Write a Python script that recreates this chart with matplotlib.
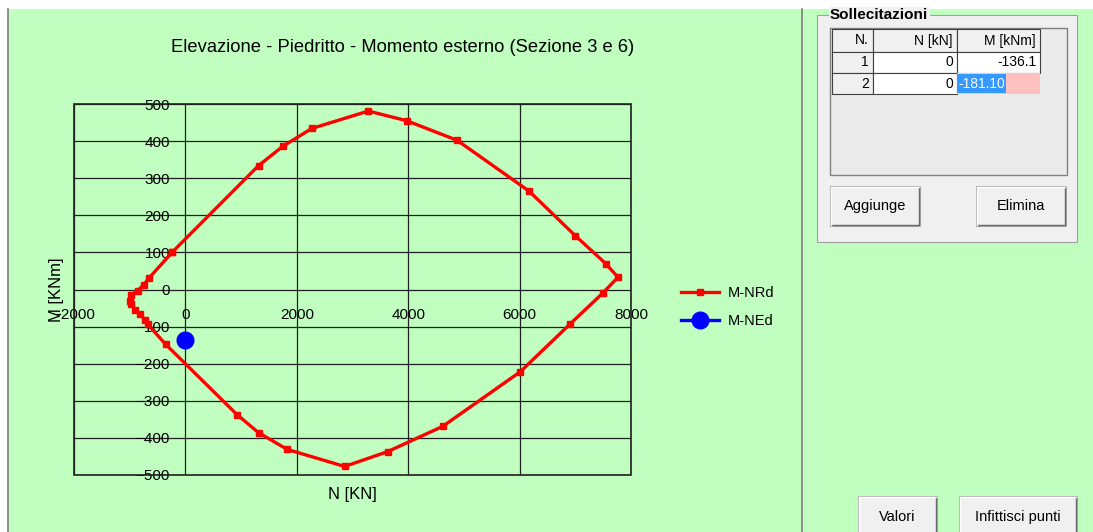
import matplotlib.pyplot as plt
from matplotlib.patches import Rectangle
from matplotlib.lines import Line2D

plt.rcParams['font.family'] = ['Liberation Sans', 'DejaVu Sans']

# dominio resistente M-NRd
N_rd = [-240, 1314, 1749, 2269, 3285, 3972, 4880, 6171, 7000, 7545, 7766,
        7491, 6900, 6010, 4619, 3630, 2859, 1828, 1314, 925, -353,
        -676, -729, -819, -909, -980, -998, -980, -855, -747, -658, -240]
M_rd = [100, 334, 386, 434, 481, 455, 402, 265, 145, 70, 33,
        -10, -94, -222, -369, -437, -477, -431, -386, -337, -148,
        -94, -81, -67, -54, -40, -30, -16, -3, 13, 30, 100]

# sollecitazioni M-NEd
N_ed = [0]
M_ed = [-136.1]

x_ticks = [-2000, 0, 2000, 4000, 6000, 8000]
y_ticks = [-500, -400, -300, -200, -100, 0, 100, 200, 300, 400, 500]

# tabella sollecitazioni
tab_header = ['N.', 'N [kN]', 'M [kNm]']
tab_n = ['1', '2']
tab_N = ['0', '0']
tab_M = ['-136.1', '-181.10']

GREEN = '#C0FFC0'
W, H = 1093, 532


def fx(x):
    return x / W


def fy(y):
    return 1 - y / H


fig = plt.figure(figsize=(W / 100, H / 100), dpi=100, facecolor=GREEN)


def box(x0, y0, x1, y1, **kw):
    r = Rectangle((fx(x0), fy(y1)), (x1 - x0) / W, (y1 - y0) / H,
                  transform=fig.transFigure, **kw)
    fig.patches.append(r)


def line(xs, ys, **kw):
    fig.lines.append(Line2D([fx(x) for x in xs], [fy(y) for y in ys],
                            transform=fig.transFigure, **kw))


def button(x0, y0, x1, y1, label):
    box(x0, y0, x1, y1, fc='#F0F0F0', ec='#ADADAD', lw=0.8)
    line([x0 + 1, x1 - 1, x1 - 1], [y1 - 1, y1 - 1, y0 + 1], color='#696969', lw=1)
    line([x0 + 1, x0 + 1, x1 - 1], [y1 - 1, y0 + 1, y0 + 1], color='white', lw=1)
    fig.text(fx((x0 + x1) / 2), fy((y0 + y1) / 2), label, ha='center', va='center',
             fontsize=10.5)


# ---- grafico ----
ax = fig.add_axes([fx(74), fy(475), (631 - 74) / W, (475 - 104) / H])
ax.set_facecolor(GREEN)
ax.plot(N_rd, M_rd, color='red', lw=2.4, marker='s', ms=5, label='M-NRd', zorder=3)
ax.plot(N_ed, M_ed, color='blue', lw=2.4, marker='o', ms=12, ls='none',
        label='M-NEd', zorder=4)
ax.set_xlim(-2000, 8000)
ax.set_ylim(-500, 500)
ax.set_xticks(x_ticks)
ax.set_yticks(y_ticks)
ax.grid(True, color='#202020', lw=0.9)
ax.set_axisbelow(True)
for s in ['left', 'bottom']:
    ax.spines[s].set_position(('data', 0))
    ax.spines[s].set_edgecolor('none')
for s in ['top', 'right']:
    ax.spines[s].set_visible(False)
ax.add_patch(Rectangle((0, 0), 1, 1, transform=ax.transAxes, fill=False,
                       ec='#202020', lw=1.2, clip_on=False, zorder=5))
ax.tick_params(axis='both', length=0, labelsize=11)
ax.tick_params(axis='y', pad=11)
ax.tick_params(axis='x', pad=13)

fig.text(fx(403), fy(48), 'Elevazione - Piedritto - Momento esterno (Sezione 3 e 6)',
         ha='center', va='center', fontsize=13.2)
fig.text(fx(352), fy(495), 'N [KN]', ha='center', va='center', fontsize=12)
fig.text(fx(56), fy(290), 'M [KNm]', ha='center', va='center', fontsize=12,
         rotation=90)

leg_handles = [
    Line2D([], [], color='red', lw=2.4, marker='s', ms=5),
    Line2D([], [], color='blue', lw=2.4, marker='o', ms=12),
]
fig.legend(leg_handles, ['M-NRd', 'M-NEd'], loc='upper left',
           bbox_to_anchor=(fx(668), fy(273)), frameon=False, fontsize=10.5,
           handlelength=2.6, handletextpad=0.6, labelspacing=0.95)

# ---- cornici finestra ----
box(0, 0, W, 9, fc='white', ec='none')
box(0, 0, 7, H, fc='white', ec='none')
line([7.5, 7.5], [9, H], color='#808080', lw=1.2)
line([802, 802], [9, H], color='#808080', lw=1.2)

# ---- pannello Sollecitazioni ----
box(817, 15, 1077, 242, fc='#F0F0F0', ec='#A0A0A0', lw=0.8)
fig.text(fx(830), fy(15), 'Sollecitazioni', ha='left', va='center',
         fontsize=11, fontweight='bold',
         bbox=dict(fc='#F0F0F0', ec='none', pad=1))
box(830, 28, 1067, 175, fc='#EBEBEB', ec='#808080', lw=1)

col_x = [832, 873, 957, 1040]
row_y = [29, 52, 73, 94]
for j, h in enumerate(tab_header):
    box(col_x[j], row_y[0], col_x[j + 1], row_y[1], fc='#F0F0F0', ec='#404040', lw=0.8)
    fig.text(fx(col_x[j + 1] - 4), fy((row_y[0] + row_y[1]) / 2), h,
             ha='right', va='center', fontsize=10)
for i in range(len(tab_n)):
    y0, y1 = row_y[i + 1], row_y[i + 2]
    ym = fy((y0 + y1) / 2)
    box(col_x[0], y0, col_x[1], y1, fc='#F0F0F0', ec='#404040', lw=0.8)
    fig.text(fx(col_x[1] - 4), ym, tab_n[i], ha='right', va='center', fontsize=10)
    box(col_x[1], y0, col_x[2], y1, fc='white', ec='#404040', lw=0.8)
    fig.text(fx(col_x[2] - 4), ym, tab_N[i], ha='right', va='center', fontsize=10)
    if i == len(tab_n) - 1:
        box(col_x[2], y0, col_x[3], y1, fc='#FFC0C0', ec='none')
        box(col_x[2], y0 + 1, 1006, y1 - 1, fc='#3399FF', ec='none')
        fig.text(fx(col_x[2] + 1), ym, tab_M[i], ha='left', va='center',
                 fontsize=10, color='white')
    else:
        box(col_x[2], y0, col_x[3], y1, fc='white', ec='#404040', lw=0.8)
        fig.text(fx(col_x[3] - 4), ym, tab_M[i], ha='right', va='center', fontsize=10)

button(830, 186, 920, 226, 'Aggiunge')
button(976, 186, 1066, 226, 'Elimina')
button(858, 496, 937, 538, 'Valori')
button(959, 496, 1077, 538, 'Infittisci punti')

fig.savefig('out.png', dpi=100, facecolor=GREEN)
